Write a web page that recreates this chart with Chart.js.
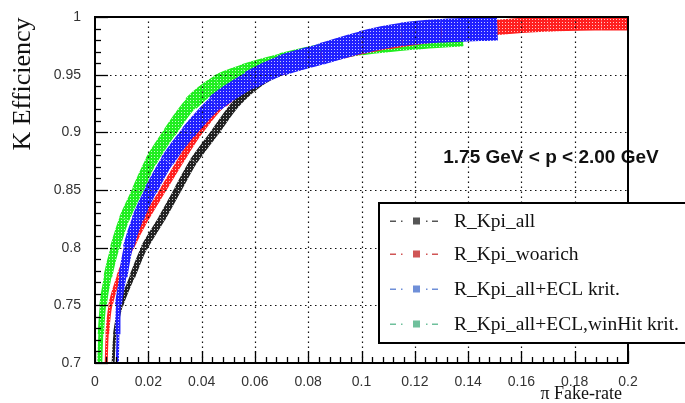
<!DOCTYPE html>
<html>
<head>
<meta charset="utf-8">
<script src="https://cdn.jsdelivr.net/npm/chart.js@4/dist/chart.umd.min.js"></script>
<style>
    html, body { margin: 0; padding: 0; background: #fff; }
</style>
</head>
<body>
<canvas id="chart" width="685" height="403"></canvas>
<script>
// axis ticks
const xTicks = [0, 0.02, 0.04, 0.06, 0.08, 0.1, 0.12, 0.14, 0.16, 0.18, 0.2];
const yTicks = [0.7, 0.75, 0.8, 0.85, 0.9, 0.95, 1];

const seriesNames = ['R_Kpi_all', 'R_Kpi_woarich', 'R_Kpi_all+ECL krit.', 'R_Kpi_all+ECL,winHit krit.'];

// pi fake-rate (x) / K efficiency (y)
const kpiAllX = [0.0068, 0.0075, 0.0097, 0.014, 0.0185, 0.025, 0.031, 0.037, 0.045, 0.053, 0.063, 0.075, 0.09, 0.11, 0.13, 0.15];
const kpiAllY = [0.70, 0.725, 0.75, 0.775, 0.80, 0.825, 0.85, 0.875, 0.90, 0.925, 0.945, 0.958, 0.968, 0.978, 0.985, 0.99];

const woarichX = [0.0042, 0.0046, 0.0058, 0.009, 0.0135, 0.019, 0.0255, 0.032, 0.039, 0.048, 0.06, 0.075, 0.09, 0.11, 0.13, 0.151, 0.17, 0.19, 0.2];
const woarichY = [0.70, 0.725, 0.75, 0.775, 0.80, 0.825, 0.85, 0.875, 0.90, 0.925, 0.945, 0.958, 0.968, 0.978, 0.985, 0.991, 0.994, 0.995, 0.995];

const eclX = [0.0084, 0.0086, 0.0088, 0.0105, 0.0125, 0.016, 0.021, 0.027, 0.035, 0.045, 0.058, 0.07, 0.085, 0.10, 0.115, 0.13, 0.151];
const eclY = [0.70, 0.725, 0.75, 0.775, 0.80, 0.825, 0.85, 0.875, 0.90, 0.925, 0.945, 0.958, 0.968, 0.978, 0.985, 0.988, 0.99];

const winHitX = [0.0018, 0.0022, 0.003, 0.0048, 0.0075, 0.011, 0.016, 0.021, 0.028, 0.036, 0.046, 0.056, 0.07, 0.085, 0.10, 0.12, 0.138];
const winHitY = [0.70, 0.725, 0.75, 0.775, 0.80, 0.825, 0.85, 0.875, 0.90, 0.925, 0.943, 0.952, 0.961, 0.969, 0.975, 0.98, 0.983];

const toPoints = (xs, ys) => xs.map((x, i) => ({ x: x, y: ys[i] }));

// dotted marker look of the ROOT bands
function bandPattern(color) {
    const c = document.createElement('canvas');
    c.width = 3;
    c.height = 3;
    const g = c.getContext('2d');
    g.fillStyle = color;
    g.fillRect(0, 0, 3, 3);
    g.fillStyle = 'rgba(255,255,255,0.75)';
    g.fillRect(1, 1, 1, 1);
    return g.createPattern(c, 'repeat');
}

// band width grows with efficiency (wider error bars near 1)
function bandWidth(w) {
    return (ctx) => {
        const y = ctx.p0.parsed.y;
        if (y < 0.8) return w[0] + (w[1] - w[0]) * (y - 0.7) / 0.1;
        if (y < 0.9) return w[1] + (w[2] - w[1]) * (y - 0.8) / 0.1;
        return w[2] + (w[3] - w[2]) * (y - 0.9) / 0.1;
    };
}

function band(label, data, color, widths, order) {
    return {
        label: label,
        data: data,
        borderColor: bandPattern(color),
        borderWidth: widths[0],
        borderCapStyle: 'butt',
        borderJoinStyle: 'round',
        pointRadius: 0,
        tension: 0.3,
        showLine: true,
        order: order,
        segment: { borderWidth: bandWidth(widths) }
    };
}

const legendColors = ['#555555', '#d05555', '#6f8fd8', '#6fc09c'];

const rootPlugin = {
    id: 'rootLook',
    afterDatasetsDraw: function (chart) {
        const ctx = chart.ctx;
        const a = chart.chartArea;
        const xs = chart.scales.x;
        const ys = chart.scales.y;
        ctx.save();

        // annotation
        ctx.fillStyle = '#111';
        ctx.font = 'bold 19px "Liberation Sans", Arial, sans-serif';
        ctx.textAlign = 'center';
        ctx.textBaseline = 'middle';
        ctx.fillText('1.75 GeV < p < 2.00 GeV', 551, 158);

        // dotted grid on top of the bands
        ctx.strokeStyle = '#111';
        ctx.lineWidth = 1.2;
        ctx.setLineDash([1.5, 3.5]);
        xTicks.slice(1, -1).forEach((v) => {
            const px = Math.round(xs.getPixelForValue(v)) + 0.5;
            ctx.beginPath();
            ctx.moveTo(px, a.bottom);
            ctx.lineTo(px, a.top);
            ctx.stroke();
        });
        yTicks.slice(1, -1).forEach((v) => {
            const py = Math.round(ys.getPixelForValue(v)) + 0.5;
            ctx.beginPath();
            ctx.moveTo(a.left, py);
            ctx.lineTo(a.right, py);
            ctx.stroke();
        });
        ctx.setLineDash([]);

        // tick marks inside the frame
        ctx.lineWidth = 1.3;
        ctx.strokeStyle = '#000';
        for (let i = 0; i <= 50; i++) {
            const v = i * 0.004;
            const px = Math.round(xs.getPixelForValue(v)) + 0.5;
            const len = i % 5 === 0 ? 12 : 6;
            ctx.beginPath();
            ctx.moveTo(px, a.bottom);
            ctx.lineTo(px, a.bottom - len);
            ctx.stroke();
        }
        for (let i = 0; i <= 30; i++) {
            const v = 0.7 + i * 0.01;
            const py = Math.round(ys.getPixelForValue(v)) + 0.5;
            const len = i % 5 === 0 ? 13 : 6;
            ctx.beginPath();
            ctx.moveTo(a.left, py);
            ctx.lineTo(a.left + len, py);
            ctx.stroke();
        }

        // frame
        ctx.lineWidth = 2;
        ctx.strokeRect(a.left, a.top, a.right - a.left, a.bottom - a.top);

        // axis titles
        ctx.fillStyle = '#111';
        ctx.font = '18px "Liberation Serif", "Times New Roman", serif';
        ctx.textAlign = 'right';
        ctx.textBaseline = 'middle';
        ctx.fillText('\u03c0 Fake-rate', 622, 394);

        ctx.save();
        ctx.translate(23, 84);
        ctx.rotate(-Math.PI / 2);
        ctx.textAlign = 'center';
        ctx.font = '26px "Liberation Serif", "Times New Roman", serif';
        ctx.fillText('K Efficiency', 0, 0);
        ctx.restore();

        // legend box
        ctx.fillStyle = '#fff';
        ctx.fillRect(379, 203, 320, 140);
        ctx.lineWidth = 2;
        ctx.strokeStyle = '#000';
        ctx.strokeRect(379, 203, 320, 140);
        const rows = [221, 254, 289, 324];
        seriesNames.forEach((name, i) => {
            const y = rows[i];
            ctx.fillStyle = legendColors[i];
            ctx.fillRect(390, y - 0.5, 6, 1.5);
            ctx.fillRect(401, y - 0.5, 1.5, 1.5);
            ctx.fillRect(413, y - 3.5, 7, 7);
            ctx.fillRect(426, y - 0.5, 1.5, 1.5);
            ctx.fillRect(432, y - 0.5, 6, 1.5);
            ctx.fillStyle = '#111';
            ctx.font = '19.5px "Liberation Serif", "Times New Roman", serif';
            ctx.textAlign = 'left';
            ctx.fillText(name, 454, y + 1);
        });

        ctx.restore();
    }
};

const tickFont = { family: '"Liberation Sans", Arial, sans-serif', size: 14 };

new Chart(document.getElementById('chart').getContext('2d'), {
    type: 'scatter',
    data: {
        datasets: [
            band(seriesNames[0], toPoints(kpiAllX, kpiAllY), '#222222', [3, 7, 8, 8], 3),
            band(seriesNames[1], toPoints(woarichX, woarichY), '#ff2020', [3, 6, 7, 16], 2),
            band(seriesNames[2], toPoints(eclX, eclY), '#2020ff', [3, 11, 15, 25], 1),
            band(seriesNames[3], toPoints(winHitX, winHitY), '#20ee20', [5, 10, 13, 21], 4)
        ]
    },
    options: {
        responsive: false,
        animation: false,
        layout: { padding: { top: 17, right: 57, left: 0, bottom: 0 } },
        plugins: {
            legend: { display: false },
            tooltip: { enabled: false }
        },
        scales: {
            x: {
                type: 'linear',
                min: 0,
                max: 0.2,
                grid: { display: false },
                border: { display: false },
                afterBuildTicks: (s) => { s.ticks = xTicks.map((v) => ({ value: v })); },
                afterFit: (s) => { s.height = 40; },
                ticks: {
                    font: tickFont,
                    color: '#333',
                    padding: 3,
                    maxRotation: 0,
                    autoSkip: false,
                    callback: (v) => String(v)
                }
            },
            y: {
                type: 'linear',
                min: 0.7,
                max: 1,
                grid: { display: false },
                border: { display: false },
                afterBuildTicks: (s) => { s.ticks = yTicks.map((v) => ({ value: v })); },
                afterFit: (s) => { s.width = 95; },
                ticks: {
                    font: tickFont,
                    color: '#333',
                    padding: 6,
                    autoSkip: false,
                    callback: (v) => String(v)
                }
            }
        }
    },
    plugins: [rootPlugin]
});
</script>
</body>
</html>
